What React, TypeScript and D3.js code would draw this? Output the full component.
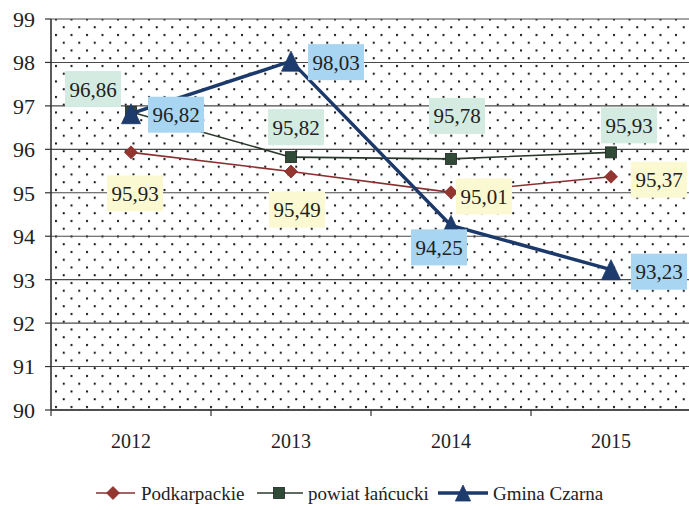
import React from "react";
import * as d3 from "d3";

const years = ["2012", "2013", "2014", "2015"];
const podkarpackie = [95.93, 95.49, 95.01, 95.37];
const powiat = [96.86, 95.82, 95.78, 95.93];
const gmina = [96.82, 98.03, 94.25, 93.23];
const yTicks = [90, 91, 92, 93, 94, 95, 96, 97, 98, 99];
const seriesNames = ["Podkarpackie", "powiat łańcucki", "Gmina Czarna"];

// label offsets (px) from each point
const redOff = [[4, 41], [6, 38], [33, 4], [48, 3]];
const greenOff = [[-38, -23], [5, -30], [6, -43], [18, -27]];
const blueOff = [[45, 1], [45, 1], [-12, 22], [48, 2]];

const W = 689, H = 510;
const FONT = "'Liberation Serif', serif";

export default function App() {
  const x = d3.scaleBand().domain(years).range([51, 691]).paddingInner(0).paddingOuter(0);
  const cx = (y: string) => (x(y) as number) + x.bandwidth() / 2;
  const y = d3.scaleLinear().domain([90, 99]).range([410, 19]);
  const line = d3.line<number>().x((_, i) => cx(years[i])).y((v) => y(v));

  const series = [
    { name: seriesNames[0], vals: podkarpackie, color: "#8a2f2f", fill: "#943630", width: 1.6, marker: "diamond", off: redOff, box: "#fbf9d2" },
    { name: seriesNames[1], vals: powiat, color: "#2a382c", fill: "#2f4a36", width: 1.6, marker: "square", off: greenOff, box: "#d3ebe1" },
    { name: seriesNames[2], vals: gmina, color: "#1c396b", fill: "#1e3b6d", width: 3.5, marker: "triangle", off: blueOff, box: "#a7d5f2" },
  ];

  const marker = (type: string, px: number, py: number, fill: string, stroke: string, key: string, scale = 1) => {
    if (type === "diamond") {
      const r = 6.5 * scale;
      return <path key={key} d={`M${px},${py - r}L${px + r},${py}L${px},${py + r}L${px - r},${py}Z`} fill={fill} stroke={stroke} strokeWidth={0.8} />;
    }
    if (type === "square") {
      const r = 5.5 * scale;
      return <rect key={key} x={px - r} y={py - r} width={2 * r} height={2 * r} fill={fill} stroke="#1c261e" strokeWidth={0.8} />;
    }
    const hw = 9.5 * scale, top = 10 * scale, bot = 10 * scale;
    return <path key={key} d={`M${px},${py - top}L${px + hw},${py + bot}L${px - hw},${py + bot}Z`} fill={fill} stroke={stroke} strokeWidth={0.8} />;
  };

  const legendItems = [
    { x0: 96, x1: 135, mx: 113, tx: 141 },
    { x0: 257, x1: 303, mx: 279, tx: 308 },
    { x0: 438, x1: 488, mx: 463, tx: 493 },
  ];

  return (
    <svg width={W} height={H} style={{ position: "absolute", left: 0, top: 0, background: "#fff" }}>
      <defs>
        <pattern id="dots" patternUnits="userSpaceOnUse" x={55} y={0} width={15.5} height={15.5}>
          <rect x={0} y={3} width={2} height={2} fill="#111" />
          <rect x={7.75} y={10.75} width={2} height={2} fill="#111" />
        </pattern>
      </defs>
      <rect x={51} y={19} width={640} height={391} fill="#fff" />
      <rect x={51} y={19} width={640} height={391} fill="url(#dots)" />
      {yTicks.map((t) => (
        <g key={t}>
          <line x1={51} x2={691} y1={y(t)} y2={y(t)} stroke="#4a4a4a" strokeWidth={1.1} />
          <line x1={45} x2={51} y1={y(t)} y2={y(t)} stroke="#333" strokeWidth={1.2} />
          <text x={35} y={y(t)} dy="0.36em" textAnchor="end" fontFamily={FONT} fontSize={22} fill="#222">{t}</text>
        </g>
      ))}
      <line x1={51} x2={51} y1={19} y2={410} stroke="#333" strokeWidth={1.6} />
      <line x1={51} x2={691} y1={410} y2={410} stroke="#333" strokeWidth={1.4} />
      {[0, 1, 2, 3, 4].map((i) => (
        <line key={i} x1={51 + i * x.step()} x2={51 + i * x.step()} y1={410} y2={416} stroke="#333" strokeWidth={1.2} />
      ))}
      {years.map((yr) => (
        <text key={yr} x={cx(yr)} y={448} textAnchor="middle" fontFamily={FONT} fontSize={20} fill="#222">{yr}</text>
      ))}
      {series.map((s) => (
        <g key={s.name}>
          <path d={line(s.vals) || ""} fill="none" stroke={s.color} strokeWidth={s.width} />
          {s.vals.map((v, i) => marker(s.marker, cx(years[i]), y(v), s.fill, s.color, s.name + i))}
        </g>
      ))}
      {series.map((s) =>
        s.vals.map((v, i) => {
          const lx = cx(years[i]) + s.off[i][0];
          const ly = y(v) + s.off[i][1];
          const label = v.toFixed(2).replace(".", ",");
          return (
            <g key={s.name + "l" + i}>
              <rect x={lx - 28} y={ly - 18} width={56} height={36} fill={s.box} />
              <text x={lx} y={ly} dy="0.36em" textAnchor="middle" fontFamily={FONT} fontSize={21} fill="#222">{label}</text>
            </g>
          );
        })
      )}
      {series.map((s, i) => {
        const it = legendItems[i];
        const ly = 493;
        return (
          <g key={"lg" + i}>
            <line x1={it.x0} x2={it.x1} y1={ly} y2={ly} stroke={s.color} strokeWidth={s.width} />
            {marker(s.marker, it.mx, ly, s.fill, s.color, "lm" + i, s.marker === "triangle" ? 0.8 : 1)}
            <text x={it.tx} y={ly} dy="0.36em" fontFamily={FONT} fontSize={19} fill="#222">{s.name}</text>
          </g>
        );
      })}
    </svg>
  );
}
